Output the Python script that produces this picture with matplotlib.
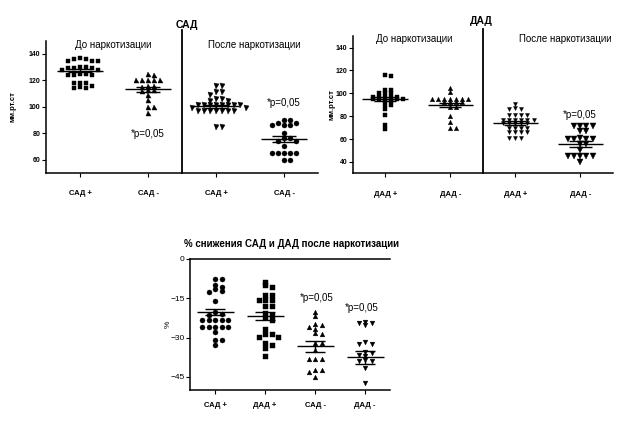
import numpy as np
import matplotlib.pyplot as plt

plt.rcParams['font.family'] = ['Liberation Sans', 'DejaVu Sans']

# --- data ---
# САД panel (мм.рт.ст)
sad_labels = ['САД +', 'САД -', 'САД +', 'САД -']
sad_pos_before = [137, 136, 136, 135, 135, 135, 130, 130, 129, 129, 129, 128, 128,
                  125, 125, 124, 124, 124, 118, 118, 118, 116, 115, 114, 114]
sad_neg_before = [125, 124, 120, 120, 120, 120, 120, 116, 116, 115, 113, 113, 112,
                  109, 105, 100, 100, 95]
sad_pos_after = [116, 116, 111, 111, 109, 106, 106, 104, 104, 101, 101, 101, 101, 101,
                 101, 101, 101, 99, 99, 97, 97, 97, 97, 97, 97, 97, 85, 85]
sad_neg_after = [90, 90, 88, 88, 86, 86, 86, 80, 76, 76, 74, 74, 70, 65, 65, 65, 65, 65,
                 60, 60]
sad_means = [127.2, 113.3, 100.2, 75.4]
sad_sems = [1.0, 1.9, 1.2, 2.5]

# ДАД panel (мм.рт.ст)
dad_labels = ['ДАД +', 'ДАД -', 'ДАД +', 'ДАД -']
dad_pos_before = [116, 115, 103, 103, 100, 100, 100, 97, 97, 97, 97, 97, 95, 95, 95, 95,
                  95, 95, 93, 93, 90, 90, 86, 81, 72, 69]
dad_neg_before = [105, 101, 95, 95, 95, 95, 95, 95, 95, 92, 92, 92, 92, 88, 88, 80, 75,
                  70, 70]
dad_pos_after = [91, 87, 86, 86, 81, 81, 81, 81, 77, 77, 77, 77, 77, 77, 74, 74, 74, 74,
                 74, 70, 70, 70, 70, 66, 66, 66, 66, 61, 61, 61]
dad_neg_after = [71, 71, 71, 71, 67, 67, 61, 60, 60, 60, 60, 56, 56, 50, 45, 45, 45, 45,
                 45, 40]
dad_means = [94.9, 90.0, 73.9, 55.6]
dad_sems = [1.9, 1.9, 1.5, 2.5]

# % снижения
pct_labels = ['САД +', 'ДАД +', 'САД -', 'ДАД -']
pct_sad_pos = [-7.8, -7.8, -9.9, -10.6, -11.5, -12.5, -12.2, -15.9, -20.3, -21.5, -21.0,
               -23.4, -23.4, -23.4, -23.4, -23.4, -25.8, -25.8, -25.8, -25.8, -25.8,
               -27.7, -30.9, -30.9, -32.8]
pct_dad_pos = [-8.7, -9.9, -10.5, -13.7, -13.7, -15.8, -15.8, -15.8, -17.9, -17.9, -20.8,
               -21.3, -22.3, -23.3, -26.8, -28.6, -28.6, -29.6, -29.6, -31.9, -33.0,
               -33.9, -37.0]
pct_sad_neg = [-20.1, -21.8, -24.8, -25.2, -25.8, -26.8, -28.1, -28.6, -31.9, -32.2,
               -34.7, -38.3, -38.3, -38.3, -42.4, -42.4, -43.0, -45.2]
pct_dad_neg = [-23.9, -24.5, -24.5, -25.2, -31.6, -32.4, -32.4, -35.5, -36.0, -36.5,
               -37.0, -38.5, -39.0, -39.0, -41.7, -47.4]
pct_means = [-20.1, -21.7, -33.4, -37.6]
pct_sems = [1.2, 1.6, 2.2, 2.4]


def swarm(vals, step, h):
    # simple greedy beeswarm: top to bottom, nearest free slot to the centre
    vals = np.asarray(vals, float)
    offs = np.zeros(len(vals))
    placed = []
    for i in np.argsort(-vals):
        v = vals[i]
        cands = [0.0]
        for k in range(1, 30):
            cands += [k * step, -k * step]
        for c in cands:
            if all(abs(v - pv) >= h or abs(c - px) >= step * 0.95 for pv, px in placed):
                break
        offs[i] = c
        placed.append((v, c))
    return offs


def group(ax, x, vals, marker, ms, step, h, mean, sem, hw, sw):
    offs = swarm(vals, step, h)
    ax.plot(x + offs, vals, ls='none', marker=marker, ms=ms, color='black',
            mec='black', mew=0.3, zorder=2)
    ax.hlines(mean, x - hw, x + hw, color='black', lw=1.0, zorder=3)
    ax.hlines([mean - sem, mean + sem], x - sw, x + sw, color='black', lw=1.0, zorder=3)
    ax.vlines(x, mean - sem, mean + sem, color='black', lw=1.0, zorder=3)


def style(ax, labels, yticks, pad):
    ax.spines['right'].set_visible(False)
    ax.spines['top'].set_visible(False)
    for s in ['left', 'bottom']:
        ax.spines[s].set_linewidth(1.1)
    ax.set_xlim(0.5, 4.5)
    ax.set_xticks([1, 2, 3, 4])
    ax.set_xticklabels(labels, fontsize=5.5, fontweight='bold')
    ax.set_yticks(yticks)
    ax.tick_params(axis='x', length=3, width=0.8, pad=pad)
    ax.tick_params(axis='y', length=3, width=0.8, pad=1, labelsize=5)


fig = plt.figure(figsize=(6.42, 4.25), dpi=100)

# ---------------- САД ----------------
ax1 = fig.add_axes([0.0717, 0.5936, 0.4237, 0.3106])
ax1.set_ylim(50, 150)
style(ax1, sad_labels, [60, 80, 100, 120, 140], 9.5)
for lab in ax1.get_yticklabels():
    lab.set_fontweight('bold')
sad_groups = [(sad_pos_before, 's', 3.4), (sad_neg_before, '^', 3.6),
              (sad_pos_after, 'v', 3.6), (sad_neg_after, 'o', 3.6)]
for i, (vals, mk, ms) in enumerate(sad_groups):
    group(ax1, i + 1, vals, mk, ms, 0.088, 2.4, sad_means[i], sad_sems[i], 0.34, 0.17)
ax1.plot([2.5, 2.5], [50, 158], color='black', lw=1.3, clip_on=False)
ax1.set_ylabel('мм.рт.ст', fontsize=5.5, fontweight='bold')
ax1.yaxis.set_label_coords(-0.11, 0.5)
ax1.text(2.57, 162, 'САД', ha='center', va='center', fontsize=7.5, fontweight='bold')
ax1.text(1.49, 146.8, 'До наркотизации', ha='center', va='center', fontsize=7)
ax1.text(3.57, 146.8, 'После наркотизации', ha='center', va='center', fontsize=7)
ax1.text(2.0, 79.4, '*p=0,05', ha='center', va='center', fontsize=7)
ax1.text(4.0, 103, '*p=0,05', ha='center', va='center', fontsize=7)

# ---------------- ДАД ----------------
ax2 = fig.add_axes([0.5494, 0.5922, 0.4054, 0.3226])
ax2.set_ylim(30, 150)
style(ax2, dad_labels, [40, 60, 80, 100, 120, 140], 9.5)
for lab in ax2.get_yticklabels():
    lab.set_fontweight('bold')
dad_groups = [(dad_pos_before, 's', 3.4), (dad_neg_before, '^', 3.2),
              (dad_pos_after, 'v', 2.9), (dad_neg_after, 'v', 4.2)]
for i, (vals, mk, ms) in enumerate(dad_groups):
    group(ax2, i + 1, vals, mk, ms, 0.093, 2.0, dad_means[i], dad_sems[i], 0.35, 0.17)
ax2.plot([2.5, 2.5], [30, 156], color='black', lw=1.3, clip_on=False)
ax2.set_ylabel('мм.рт.ст', fontsize=5.5, fontweight='bold')
ax2.yaxis.set_label_coords(-0.065, 0.5)
ax2.text(2.47, 163.6, 'ДАД', ha='center', va='center', fontsize=7.5, fontweight='bold')
ax2.text(1.44, 147.3, 'До наркотизации', ha='center', va='center', fontsize=7)
ax2.text(3.77, 147.3, 'После наркотизации', ha='center', va='center', fontsize=7)
ax2.text(3.99, 81.2, '*p=0,05', ha='center', va='center', fontsize=7)

# ---------------- % снижения ----------------
ax3 = fig.add_axes([0.296, 0.0824, 0.3115, 0.3082])
ax3.set_ylim(-50, 0)
style(ax3, pct_labels, [0, -15, -30, -45], 6)
ax3.spines['top'].set_visible(True)
ax3.spines['top'].set_linewidth(1.1)
ax3.tick_params(axis='y', labelsize=6)
pct_groups = [(pct_sad_pos, 'o', 3.6), (pct_dad_pos, 's', 3.6),
              (pct_sad_neg, '^', 3.4), (pct_dad_neg, 'v', 3.4)]
for i, (vals, mk, ms) in enumerate(pct_groups):
    group(ax3, i + 1, vals, mk, ms, 0.13, 1.2, pct_means[i], pct_sems[i], 0.37, 0.2)
ax3.set_ylabel('%', fontsize=6)
ax3.yaxis.set_label_coords(-0.09, 0.5)
ax3.text(2.52, 5.7, '% снижения САД и ДАД после наркотизации', ha='center',
         va='center', fontsize=7, fontweight='bold')
ax3.text(3.03, -15.0, '*p=0,05', ha='center', va='center', fontsize=7)
ax3.text(3.93, -18.8, '*p=0,05', ha='center', va='center', fontsize=7)

fig.savefig('out.png', dpi=100)
